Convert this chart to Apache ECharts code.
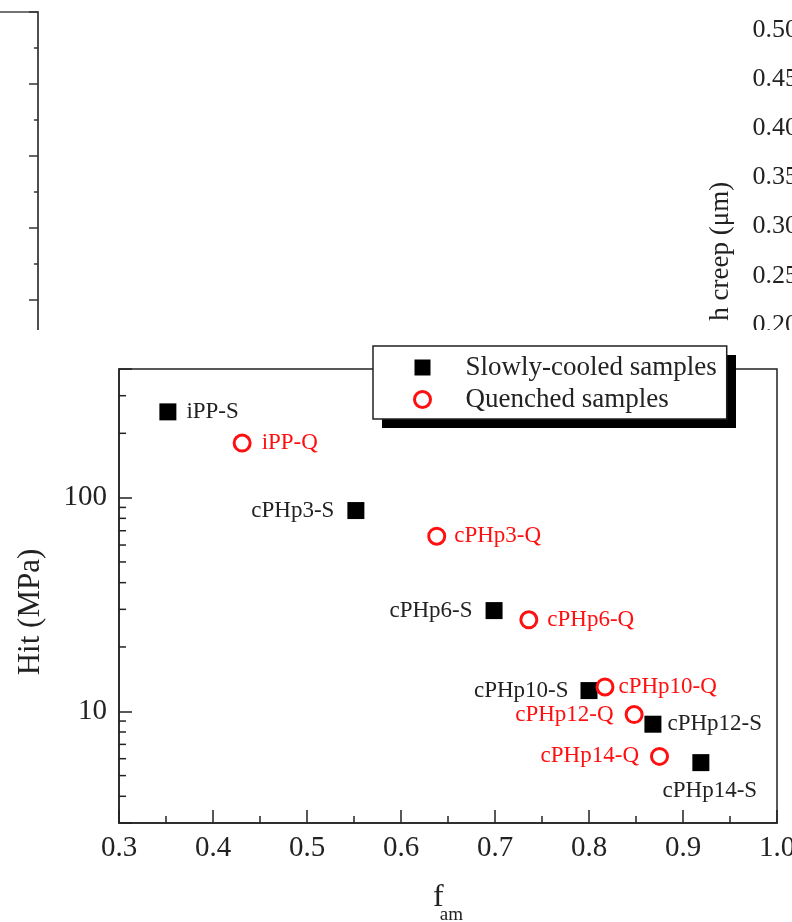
<!DOCTYPE html>
<html>
<head>
<meta charset="utf-8">
<script src="https://cdn.jsdelivr.net/npm/echarts@6/dist/echarts.min.js"></script>
<style>
html,body{margin:0;padding:0;background:#fff;}
#chart{width:792px;height:922px;}
</style>
</head>
<body>
<div id="chart"></div>
<script>
// ---- data ----
const samples = ['iPP', 'cPHp3', 'cPHp6', 'cPHp10', 'cPHp12', 'cPHp14'];
const slowFam = [0.352, 0.552, 0.699, 0.800, 0.868, 0.919];
const slowHit = [252, 87, 29.6, 12.5, 8.7, 5.75];
const quenchFam = [0.431, 0.638, 0.736, 0.817, 0.848, 0.875];
const quenchHit = [180, 66, 26.8, 13.0, 9.65, 6.15];
const seriesNames = ['Slowly-cooled samples', 'Quenched samples'];
const yMinorTicks = [4, 5, 6, 7, 8, 9, 20, 30, 40, 50, 60, 70, 80, 90, 200, 300];
const creepTicks = [0.20, 0.25, 0.30, 0.35, 0.40, 0.45, 0.50];

// ---- style / layout ----
const FONT = "'Liberation Serif','Times New Roman',serif";
const INK = '#222';
const RED = '#ff1010';
const slowLabelPos = [
  {position: 'right', distance: 10},
  {position: 'left', distance: 13},
  {position: 'left', distance: 13},
  {position: 'left', distance: 12},
  {position: 'right', distance: 6},
  {position: 'bottom', distance: 8, offset: [9, 0]}
];
const quenchLabelPos = [
  {position: 'right', distance: 10},
  {position: 'right', distance: 8},
  {position: 'right', distance: 9},
  {position: 'right', distance: 4},
  {position: 'left', distance: 11},
  {position: 'left', distance: 11}
];

const slowData = samples.map((s, i) => ({
  name: s + '-S', value: [slowFam[i], slowHit[i]],
  label: Object.assign({show: true, formatter: '{b}', color: INK, fontSize: 23, fontFamily: FONT}, slowLabelPos[i])
}));
const quenchData = samples.map((s, i) => ({
  name: s + '-Q', value: [quenchFam[i], quenchHit[i]],
  label: Object.assign({show: true, formatter: '{b}', color: RED, fontSize: 23, fontFamily: FONT}, quenchLabelPos[i])
}));

const chart = echarts.init(document.getElementById('chart'), null, {renderer: 'canvas'});
const xMin = 0.3, xMax = 1.0;

const option = {
  backgroundColor: '#fff',
  animation: false,
  grid: [
    {left: 119, right: 15, top: 369, bottom: 99, show: true, borderColor: INK, borderWidth: 1.5, z: 2, outerBoundsMode: 'none', containLabel: false},
    {left: -300, width: 338, top: 12, height: 432, show: true, borderColor: '#444', borderWidth: 1.5, z: 0, outerBoundsMode: 'none', containLabel: false},
    {left: 806, width: 300, top: -18.8, height: 540, show: false, z: 0, outerBoundsMode: 'none', containLabel: false}
  ],
  xAxis: [
    {
      gridIndex: 0, type: 'value', min: xMin, max: xMax, interval: 0.1, z: 2,
      axisLine: {show: true, onZero: false, lineStyle: {color: INK, width: 1.5}},
      axisTick: {show: true, inside: true, length: 13, lineStyle: {color: INK, width: 1.5}},
      minorTick: {show: true, splitNumber: 2, length: 7, lineStyle: {color: INK, width: 1.5}},
      splitLine: {show: false},
      axisLabel: {formatter: v => v.toFixed(1), fontSize: 29, fontFamily: FONT, color: INK, margin: 11},
      name: '{f|f}{s|am}', nameLocation: 'middle', nameGap: 55,
      nameTextStyle: {
        rich: {
          f: {fontSize: 32, fontFamily: FONT, color: INK, verticalAlign: 'bottom', lineHeight: 36},
          s: {fontSize: 19, fontFamily: FONT, color: INK, verticalAlign: 'bottom', lineHeight: 20, padding: [0, 0, -11, -4]}
        }
      }
    },
    {gridIndex: 1, type: 'value', show: false, min: 0, max: 1},
    {gridIndex: 2, type: 'value', show: false, min: 0, max: 1}
  ],
  yAxis: [
    {
      gridIndex: 0, type: 'log', logBase: 10, min: 3, max: 400, z: 2,
      axisLine: {show: true, onZero: false, lineStyle: {color: INK, width: 1.5}},
      axisTick: {show: true, inside: true, length: 13, lineStyle: {color: INK, width: 1.5}},
      minorTick: {show: false},
      splitLine: {show: false},
      axisLabel: {
        formatter: v => {
          const l = Math.log10(v);
          return Math.abs(l - Math.round(l)) < 1e-6 ? String(Math.round(v)) : '';
        },
        fontSize: 29, fontFamily: FONT, color: INK, margin: 12
      },
      name: 'Hit (MPa)', nameLocation: 'middle', nameGap: 73, nameRotate: 90,
      nameTextStyle: {fontSize: 31, fontFamily: FONT, color: INK, padding: [0, 32, 0, 0]}
    },
    {
      gridIndex: 1, type: 'value', position: 'right', min: 0, max: 6, interval: 1, z: 0,
      axisLine: {show: true, onZero: false, lineStyle: {color: '#444', width: 1.5}},
      axisTick: {show: true, inside: true, length: 9, lineStyle: {color: '#333', width: 1.5}},
      minorTick: {show: true, splitNumber: 2, length: 4, lineStyle: {color: '#333', width: 1.5}},
      splitLine: {show: false},
      axisLabel: {show: false}
    },
    {
      gridIndex: 2, type: 'value', position: 'left', min: 0, max: 0.55, interval: 0.05, z: 0,
      axisLine: {show: false, onZero: false}, axisTick: {show: false}, splitLine: {show: false},
      axisLabel: {
        formatter: v => (creepTicks.some(t => Math.abs(t - v) < 1e-6) ? v.toFixed(2) : ''),
        fontSize: 26, fontFamily: FONT, color: INK, margin: 8
      },
      name: 'h creep (\u03bcm)', nameLocation: 'middle', nameGap: 72, nameRotate: 90,
      nameTextStyle: {fontSize: 27, fontFamily: FONT, color: INK}
    }
  ],
  legend: {
    orient: 'vertical', left: 373, top: 346, z: 5,
    backgroundColor: '#fff', borderColor: INK, borderWidth: 1.5, borderRadius: 0,
    padding: [8, 10, 6, 40], itemGap: 5, itemWidth: 16, itemHeight: 16,
    textStyle: {fontSize: 27, fontFamily: FONT, color: INK, padding: [0, 0, 0, 30]},
    data: [
      {name: seriesNames[0], icon: 'rect', itemStyle: {color: '#000'}},
      {name: seriesNames[1], icon: 'circle', itemStyle: {color: '#fff', borderColor: RED, borderWidth: 3}}
    ]
  },
  graphic: [
    {type: 'rect', z: 1, silent: true, shape: {x: 0, y: 330, width: 792, height: 592}, style: {fill: '#fff'}},
    {type: 'rect', z: 4, silent: true, shape: {x: 382, y: 355, width: 354, height: 73}, style: {fill: '#000'}}
  ],
  series: [
    {
      name: seriesNames[0], type: 'scatter', xAxisIndex: 0, yAxisIndex: 0, z: 3,
      symbol: 'rect', symbolSize: 17, itemStyle: {color: '#000', opacity: 1},
      data: slowData
    },
    {
      name: seriesNames[1], type: 'scatter', xAxisIndex: 0, yAxisIndex: 0, z: 4,
      symbol: 'circle', symbolSize: 16, itemStyle: {color: '#fff', borderColor: RED, borderWidth: 3, opacity: 1},
      data: quenchData
    },
    {
      type: 'custom', xAxisIndex: 0, yAxisIndex: 0, z: 3, silent: true, clip: false,
      data: yMinorTicks.map(v => [xMin, v]),
      renderItem: (params, api) => {
        const p = api.coord([api.value(0), api.value(1)]);
        return {type: 'line', shape: {x1: p[0], y1: p[1], x2: p[0] + 7, y2: p[1]},
                style: {stroke: INK, lineWidth: 1.5}};
      }
    }
  ]
};
chart.setOption(option);
</script>
</body>
</html>
